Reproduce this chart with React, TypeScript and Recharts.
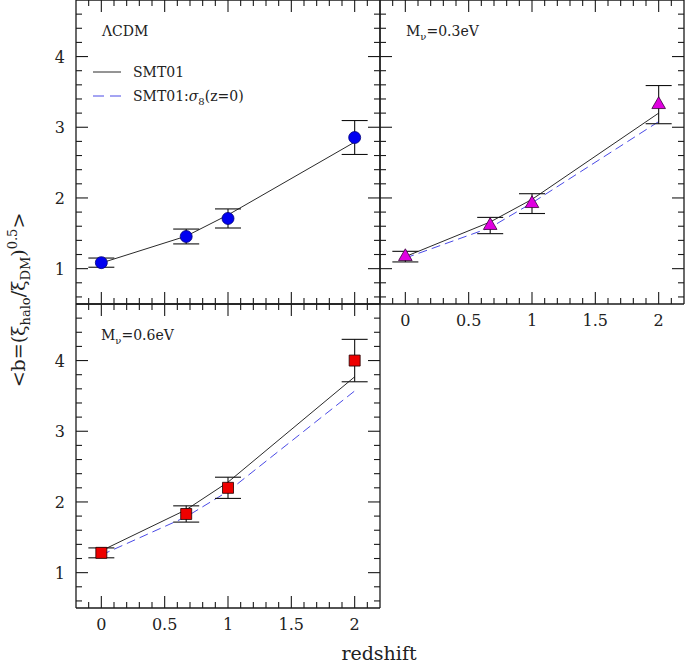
import React from 'react';
import { ComposedChart, XAxis, YAxis, ZAxis, Line, Scatter, ErrorBar } from 'recharts';

// ---- data ----
const REDSHIFTS = [0, 0.67, 1, 2];

const LCDM_BIAS = [1.085, 1.455, 1.71, 2.855];
const LCDM_ERR = [0.065, 0.105, 0.135, 0.24];
const LCDM_SMT = [1.08, 1.46, 1.76, 2.79];

const NU03_BIAS = [1.17, 1.61, 1.92, 3.32];
const NU03_ERR = [0.075, 0.115, 0.14, 0.27];
const NU03_SMT = [1.17, 1.66, 1.98, 3.2];
const NU03_SIGMA8 = [1.15, 1.58, 1.93, 3.08];

const NU06_BIAS = [1.28, 1.83, 2.2, 4.0];
const NU06_ERR = [0.07, 0.115, 0.15, 0.3];
const NU06_SMT = [1.31, 1.89, 2.28, 3.77];
const NU06_SIGMA8 = [1.25, 1.79, 2.15, 3.57];

const X_DOMAIN = [-0.2, 2.2];
const Y_DOMAIN = [0.5, 4.8];
const X_TICKS = [-0.1, 0, 0.1, 0.2, 0.3, 0.4, 0.5, 0.6, 0.7, 0.8, 0.9, 1, 1.1, 1.2, 1.3, 1.4, 1.5, 1.6, 1.7, 1.8, 1.9, 2, 2.1];
const X_MAJOR = [0, 0.5, 1, 1.5, 2];
const Y_TICKS = [0.6, 0.8, 1, 1.2, 1.4, 1.6, 1.8, 2, 2.2, 2.4, 2.6, 2.8, 3, 3.2, 3.4, 3.6, 3.8, 4, 4.2, 4.4, 4.6];
const Y_MAJOR = [1, 2, 3, 4];

const FONT = '"DejaVu Serif", serif';
const AXIS = '#1a1a1a';
const W = 685;
const H = 665;
const OX = 40;
const OY = 30;
const CW = W + 80;
const CH = H + 70;
const XH = 20;
const YW = 30;

const near = (list: number[], v: number) => list.some((m) => Math.abs(m - v) < 1e-6);

function tickFor(side: string, majors: number[], labels: boolean) {
  return (props: any) => {
    const x = Number(props.x);
    const y = Number(props.y);
    const v = props.payload.value;
    const major = near(majors, v);
    const len = major ? 12 : 6;
    let x2 = x;
    let y2 = y;
    if (side === 'bottom') y2 = y - len;
    if (side === 'top') y2 = y + len;
    if (side === 'left') x2 = x + len;
    if (side === 'right') x2 = x - len;
    return (
      <g>
        <line x1={x} y1={y} x2={x2} y2={y2} stroke={AXIS} strokeWidth={1.1} />
        {labels && major && side === 'bottom' && (
          <text x={x} y={y + 22} textAnchor="middle" fontFamily={FONT} fontSize={16} fill="#222">{String(v)}</text>
        )}
        {labels && major && side === 'left' && (
          <text x={x - 11} y={y + 6} textAnchor="end" fontFamily={FONT} fontSize={16} fill="#222">{String(v)}</text>
        )}
      </g>
    );
  };
}

type Rect = { left: number; top: number; right: number; bottom: number };
function marginsFor(r: Rect) {
  return { left: r.left + OX - YW, right: CW - (r.right + OX) - YW, top: r.top + OY - XH, bottom: CH - (r.bottom + OY) - XH };
}

type PanelProps = {
  rect: Rect;
  bias: number[];
  err: number[];
  smt: number[];
  sigma8?: number[];
  symbol: 'circle' | 'triangle' | 'square';
  symbolArea: number;
  fill: string;
  edge: string;
  leftLabels: boolean;
  bottomLabels: boolean;
};

function Panel({ rect, bias, err, smt, sigma8, symbol, symbolArea, fill, edge, leftLabels, bottomLabels }: PanelProps) {
  const points = REDSHIFTS.map((z, i) => ({ z, b: bias[i], err: err[i] }));
  const smtData = REDSHIFTS.map((z, i) => ({ z, b: smt[i] }));
  const s8Data = sigma8 ? REDSHIFTS.map((z, i) => ({ z, b: sigma8[i] })) : null;
  const axisLine = { stroke: AXIS, strokeWidth: 1.3 };
  const xCommon = { dataKey: 'z', type: 'number' as const, domain: X_DOMAIN, ticks: X_TICKS, interval: 0 as const, height: XH, tickSize: 0, tickMargin: 0, tickLine: false, axisLine, allowDataOverflow: true };
  const yCommon = { type: 'number' as const, domain: Y_DOMAIN, ticks: Y_TICKS, interval: 0 as const, width: YW, tickSize: 0, tickMargin: 0, tickLine: false, axisLine, allowDataOverflow: true };
  return (
    <div style={{ position: 'absolute', left: -OX, top: -OY }}>
      <ComposedChart width={CW} height={CH} margin={marginsFor(rect)}>
        <XAxis {...xCommon} xAxisId="xb" orientation="bottom" tick={tickFor('bottom', X_MAJOR, bottomLabels)} />
        <XAxis {...xCommon} xAxisId="xt" orientation="top" tick={tickFor('top', X_MAJOR, false)} />
        <YAxis {...yCommon} yAxisId="yl" orientation="left" tick={tickFor('left', Y_MAJOR, leftLabels)} />
        <YAxis {...yCommon} yAxisId="yr" orientation="right" tick={tickFor('right', Y_MAJOR, false)} />
        <ZAxis type="number" range={[symbolArea, symbolArea]} />
        <Line xAxisId="xb" yAxisId="yl" data={smtData} dataKey="b" type="linear" stroke="#2a2a2a" strokeWidth={1}
          dot={false} activeDot={false} isAnimationActive={false} />
        {s8Data && (
          <Line xAxisId="xb" yAxisId="yl" data={s8Data} dataKey="b" type="linear" stroke="#4a4ae6" strokeWidth={1}
            strokeDasharray="9 5" dot={false} activeDot={false} isAnimationActive={false} />
        )}
        <Scatter xAxisId="xb" yAxisId="yl" data={points} dataKey="b" shape={symbol} fill={fill} stroke={edge}
          strokeWidth={0.8} isAnimationActive={false}>
          <ErrorBar dataKey="err" direction="y" width={13} stroke="#111" strokeWidth={1.1} />
        </Scatter>
      </ComposedChart>
    </div>
  );
}

function Overlay() {
  const t = { fontFamily: FONT, fill: '#222' };
  return (
    <svg width={W} height={H} style={{ position: 'absolute', left: 0, top: 0 }}>
      <text x={102} y={36} fontSize={14} {...t}>ΛCDM</text>
      <line x1={93} y1={72} x2={121} y2={72} stroke="#2a2a2a" strokeWidth={1} />
      <text x={133} y={77} fontSize={14} {...t}>SMT01</text>
      <line x1={93} y1={96} x2={121} y2={96} stroke="#4a4ae6" strokeWidth={1} strokeDasharray="11 6" />
      <text x={133} y={101} fontSize={14} {...t}>
        SMT01:<tspan fontStyle="italic">σ</tspan>
        <tspan fontSize={10} dy={4}>8</tspan>
        <tspan dy={-4}>(z=0)</tspan>
      </text>
      <text x={406} y={36} fontSize={14} {...t}>
        M<tspan fontSize={10} dy={4}>ν</tspan>
        <tspan dy={-4}>=0.3eV</tspan>
      </text>
      <text x={101} y={340} fontSize={14} {...t}>
        M<tspan fontSize={10} dy={4}>ν</tspan>
        <tspan dy={-4}>=0.6eV</tspan>
      </text>
      <text x={379} y={660} fontSize={19} textAnchor="middle" {...t}>redshift</text>
      <text transform="translate(25,300) rotate(-90)" fontSize={19} textAnchor="middle" {...t}>
        &lt;b=(ξ<tspan fontSize={13} dy={5}>halo</tspan>
        <tspan dy={-5}>/ξ</tspan>
        <tspan fontSize={13} dy={5}>DM</tspan>
        <tspan dy={-5}>)</tspan>
        <tspan fontSize={13} dy={-8}>0.5</tspan>
        <tspan dy={8}>&gt;</tspan>
      </text>
    </svg>
  );
}

export default function App() {
  return (
    <div style={{ position: 'absolute', left: 0, top: 0, width: W, height: H, overflow: 'hidden', background: '#fff' }}>
      <Overlay />
      <Panel
        rect={{ left: 76, top: 0, right: 380, bottom: 304 }}
        bias={LCDM_BIAS}
        err={LCDM_ERR}
        smt={LCDM_SMT}
        symbol="circle"
        symbolArea={113}
        fill="#0000f0"
        edge="#00007a"
        leftLabels
        bottomLabels={false}
      />
      <Panel
        rect={{ left: 380, top: 0, right: 684, bottom: 304 }}
        bias={NU03_BIAS}
        err={NU03_ERR}
        smt={NU03_SMT}
        sigma8={NU03_SIGMA8}
        symbol="triangle"
        symbolArea={80}
        fill="#e000e0"
        edge="#3a003a"
        leftLabels={false}
        bottomLabels
      />
      <Panel
        rect={{ left: 76, top: 304, right: 380, bottom: 608 }}
        bias={NU06_BIAS}
        err={NU06_ERR}
        smt={NU06_SMT}
        sigma8={NU06_SIGMA8}
        symbol="square"
        symbolArea={121}
        fill="#ee0000"
        edge="#200000"
        leftLabels
        bottomLabels
      />
    </div>
  );
}
